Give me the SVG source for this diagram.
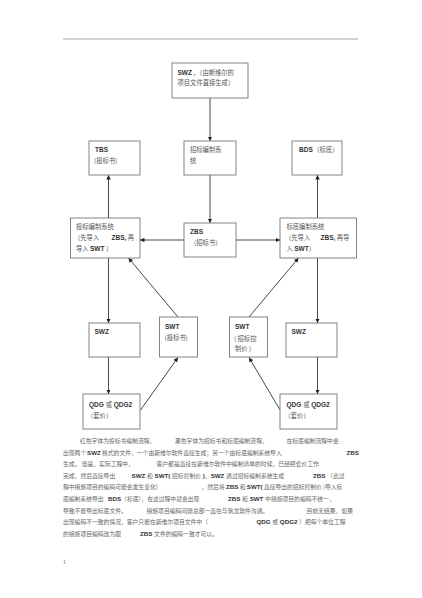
<svg xmlns="http://www.w3.org/2000/svg" width="422" height="598" viewBox="0 0 422 598">
<style>
.box{fill:#fff;stroke:#777;stroke-width:0.9}
.t{font-family:"Noto Sans CJK SC","Liberation Sans",sans-serif;font-size:6.3px;fill:#555;font-weight:normal}
.b{font-family:"Liberation Sans","Noto Sans CJK SC",sans-serif;font-size:6.5px;fill:#333;font-weight:bold}
.p{font-family:"Noto Sans CJK SC","Liberation Sans",sans-serif;font-size:5.8px;fill:#666;font-weight:normal}
.pb{font-family:"Liberation Sans","Noto Sans CJK SC",sans-serif;font-size:6.2px;fill:#333;font-weight:bold}
.c{stroke:#333;stroke-width:0.9;fill:none;marker-end:url(#ah)}
</style>
<defs>
<marker id="ah" viewBox="0 0 8 8" refX="8" refY="4" markerWidth="4.5" markerHeight="4.5" markerUnits="userSpaceOnUse" orient="auto">
<path d="M0,0 L8,4 L0,8 z" fill="#222"/>
</marker>
</defs>
<rect width="422" height="598" fill="#fff"/>
<line x1="63" y1="39" x2="358" y2="39" stroke="#999" stroke-width="0.9"/>
<text x="356.5" y="37" class="p" style="font-size:3px">.</text>

<g id="connectors">
<line class="c" x1="210" y1="98" x2="210" y2="141"/>
<line class="c" x1="210" y1="175" x2="210" y2="223"/>
<line class="c" x1="184" y1="240" x2="140" y2="240"/>
<line class="c" x1="236" y1="240" x2="280" y2="240"/>
<line class="c" x1="108.5" y1="218" x2="108.5" y2="175"/>
<line class="c" x1="317.5" y1="218" x2="317.5" y2="175"/>
<line class="c" x1="108.5" y1="258" x2="108.5" y2="323"/>
<line class="c" x1="317.5" y1="258" x2="317.5" y2="323"/>
<line class="c" x1="108.5" y1="357" x2="108.5" y2="394"/>
<line class="c" x1="317.5" y1="357" x2="317.5" y2="394"/>
<line class="c" x1="178" y1="317" x2="128.5" y2="258"/>
<line class="c" x1="249" y1="317" x2="298.5" y2="258"/>
<line class="c" x1="140.5" y1="410" x2="178" y2="357.5"/>
<line class="c" x1="280" y1="410" x2="249" y2="357.5"/>
</g>

<g id="swz-top">
<rect class="box" x="172" y="63" width="76" height="35"/>
<text class="b" x="177.5" y="75">SWZ<tspan class="t" dx="1">，（由斯维尔的</tspan></text>
<text class="t" x="177.5" y="85">项目文件直接生成）</text>
</g>

<g id="tbs">
<rect class="box" x="89" y="141" width="51" height="34"/>
<text class="b" x="95" y="152">TBS</text>
<text class="t" x="94" y="163">(投标书)</text>
</g>

<g id="zbbz">
<rect class="box" x="184" y="141" width="52" height="34"/>
<text class="t" x="190" y="152">招标编制系</text>
<text class="t" x="190" y="163">统</text>
</g>

<g id="bds">
<rect class="box" x="292" y="141" width="50" height="34"/>
<text class="b" x="299" y="152">BDS<tspan class="t" dx="0.5">（标底）</tspan></text>
</g>

<g id="tbbz">
<rect class="box" x="70.5" y="218" width="69.5" height="40"/>
<text class="t" x="76" y="229">投标编制系统</text>
<text class="t" x="74" y="240">（先导入</text>
<text class="b" x="111.5" y="240">ZBS,<tspan class="t"> 再</tspan></text>
<text class="t" x="76" y="251">导入 <tspan class="b">SWT</tspan> ）</text>
</g>

<g id="zbs">
<rect class="box" x="184" y="223" width="52" height="34"/>
<text class="b" x="190" y="234">ZBS</text>
<text class="t" x="190" y="245">（招标书）</text>
</g>

<g id="bdbz">
<rect class="box" x="280" y="218" width="76.5" height="40"/>
<text class="t" x="286.5" y="229">标底编制系统</text>
<text class="t" x="285" y="240">（先导入</text>
<text class="b" x="320.5" y="240">ZBS,<tspan class="t"> 再导</tspan></text>
<text class="t" x="286.5" y="251">入 <tspan class="b">SWT</tspan>）</text>
</g>

<g id="swz-left">
<rect class="box" x="89" y="323" width="51" height="34"/>
<text class="b" x="94.5" y="334">SWZ</text>
</g>

<g id="swt-left">
<rect class="box" x="159.5" y="317" width="38" height="40"/>
<text class="b" x="165" y="329">SWT</text>
<text class="t" x="164.5" y="340">(投标书)</text>
</g>

<g id="swt-right">
<rect class="box" x="229.5" y="317" width="38" height="40"/>
<text class="b" x="235" y="329">SWT</text>
<text class="t" x="234" y="341">( 招标控</text>
<text class="t" x="235" y="351">制价 )</text>
</g>

<g id="swz-right">
<rect class="box" x="286" y="323" width="51" height="34"/>
<text class="b" x="291.5" y="334">SWZ</text>
</g>

<g id="qdg-left">
<rect class="box" x="83" y="394" width="57" height="35"/>
<text class="b" x="89" y="407">QDG <tspan class="t">或</tspan> QDG2</text>
<text class="t" x="87" y="418">（套价）</text>
</g>

<g id="qdg-right">
<rect class="box" x="280" y="394" width="57" height="35"/>
<text class="b" x="286.5" y="407">QDG <tspan class="t">或</tspan> QDG2</text>
<text class="t" x="284.5" y="418">（套价）</text>
</g>

<g id="paragraph">
<text class="p" x="80" y="443">红色字体为投标书编制流程，</text>
<text class="p" x="175" y="443">黑色字体为招标书和标底编制流程，</text>
<text class="p" x="286.5" y="443">在标底编制流程中会</text>

<text class="p" x="63" y="454.6">出现两个</text>
<text class="pb" x="87" y="454.6">SWZ</text>
<text class="p" x="102" y="454.6">格式的文件，一个由斯维尔软件直接生成；另一个由标底编制系统导入</text>
<text class="pb" x="346.5" y="454.6">ZBS</text>

<text class="p" x="63" y="466.2">生成。 但是，实际工程中，</text>
<text class="p" x="156.5" y="466.2">客户都是直接在斯维尔软件中编制清单的时候，已经把套价工作</text>

<text class="p" x="63" y="477.8">完成，然后直接导出</text>
<text class="pb" x="131.5" y="477.8">SWZ <tspan class="p">和</tspan> SWT( <tspan class="p">招标控制价</tspan> )<tspan class="p">，</tspan>SWZ <tspan class="p">通过招标编制系统生成</tspan></text>
<text class="pb" x="313" y="477.8">ZBS <tspan class="p">（此过</tspan></text>

<text class="p" x="63" y="489.4">程中措施项目的编码可能会发生变化）</text>
<text class="p" x="201.5" y="489.4">，然后将 <tspan class="pb">ZBS</tspan> 和 <tspan class="pb">SWT(</tspan> 直接导出的招标控制价</text>
<text class="p" x="323" y="489.4">)导入标</text>

<text class="p" x="63" y="501">底编制系统导出</text>
<text class="pb" x="108" y="501">BDS<tspan class="p">（标底），在这过程中就会出现</tspan></text>
<text class="pb" x="228" y="501">ZBS <tspan class="p">和</tspan> SWT <tspan class="p">中措施项目的编码不统一，</tspan></text>

<text class="p" x="63" y="512.6">导致不能导出标底文件。</text>
<text class="p" x="146.5" y="512.6">措施项目编码问题总部一直在与筑龙软件沟通。</text>
<text class="p" x="306.5" y="512.6">目前无结果，</text>
<text class="p" x="341.5" y="512.6">如果</text>

<text class="p" x="63" y="524.2">出现编码不一致的情况，客户只能在斯维尔项目文件中（</text>
<text class="pb" x="256.5" y="524.2">QDG <tspan class="p">或</tspan> QDG2 <tspan class="p">）把每个单位工程</tspan></text>

<text class="p" x="63" y="535.8">的措施项目编码改为跟</text>
<text class="pb" x="140" y="535.8">ZBS <tspan class="p">文件的编码一致才可以。</tspan></text>

<text class="p" x="63" y="564" style="font-size:5px">1</text>
</g>
</svg>
